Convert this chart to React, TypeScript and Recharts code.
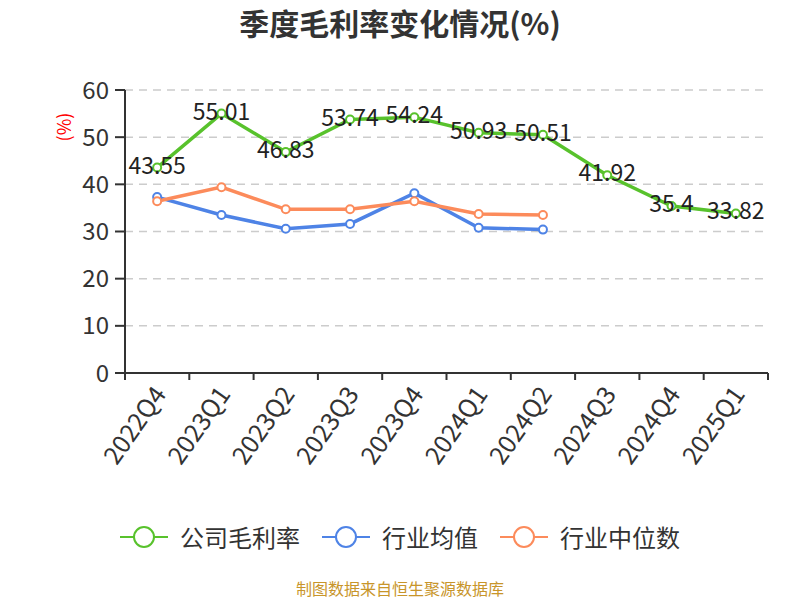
import { CartesianGrid, LabelList, Line, LineChart, XAxis, YAxis } from "recharts";

const quarters = ["2022Q4", "2023Q1", "2023Q2", "2023Q3", "2023Q4", "2024Q1", "2024Q2", "2024Q3", "2024Q4", "2025Q1"];
const companyRate = [43.55, 55.01, 46.83, 53.74, 54.24, 50.93, 50.51, 41.92, 35.4, 33.82];
const industryAvg = [37.3, 33.5, 30.6, 31.6, 38.1, 30.8, 30.4, null, null, null];
const industryMedian = [36.4, 39.4, 34.7, 34.7, 36.4, 33.7, 33.5, null, null, null];
const yTicks = [0, 10, 20, 30, 40, 50, 60];

const GREEN = "#58c22c";
const BLUE = "#4e83e6";
const ORANGE = "#fc8b5b";
const FONT = '"Noto Sans CJK SC", "Noto Sans", sans-serif';

const W = 800;
const H = 600;
const M = { top: 90, right: 32, bottom: 127, left: 0 };
const Y_W = 125;
const BAND = (W - M.left - M.right - Y_W) / quarters.length;

const data = quarters.map((q, i) => ({
  q,
  company: companyRate[i],
  avg: industryAvg[i],
  median: industryMedian[i],
}));

const series = [
  { key: "company", name: "公司毛利率", color: GREEN },
  { key: "avg", name: "行业均值", color: BLUE },
  { key: "median", name: "行业中位数", color: ORANGE },
];

function QuarterTick(props: any) {
  const { x, y, payload, index } = props;
  const last = index === quarters.length - 1;
  return (
    <g>
      <line x1={x - BAND / 2} y1={y} x2={x - BAND / 2} y2={y + 7} stroke="#333" strokeWidth={2} />
      {last && <line x1={x + BAND / 2} y1={y} x2={x + BAND / 2} y2={y + 7} stroke="#333" strokeWidth={2} />}
      <text
        transform={`translate(${x + 1},${y + 15}) rotate(-55)`}
        textAnchor="end"
        dominantBaseline="central"
        fontSize={25}
        fill="#333"
        fontFamily={FONT}
      >
        {payload.value}
      </text>
    </g>
  );
}

function ValueLabel(props: any) {
  const { x, y, value } = props;
  return (
    <text x={x} y={y - 4} textAnchor="middle" dominantBaseline="central" fontSize={23} fill="#222" fontFamily={FONT}>
      {value}
    </text>
  );
}

export default function App() {
  return (
    <div style={{ position: "absolute", left: 0, top: 0, width: W, height: H, background: "#fff", fontFamily: FONT }}>
      <div style={{ position: "absolute", top: 0, width: W, textAlign: "center", fontSize: 30, lineHeight: "44px", fontWeight: 700, color: "#333" }}>
        季度毛利率变化情况(%)
      </div>
      <LineChart width={W} height={H} data={data} margin={M}>
        <CartesianGrid vertical={false} stroke="#ccc" strokeDasharray="8 6" strokeWidth={1.5} />
        <XAxis
          dataKey="q"
          height={100}
          padding={{ left: BAND / 2, right: BAND / 2 }}
          axisLine={{ stroke: "#333", strokeWidth: 2 }}
          tickLine={false}
          tickSize={0}
          tickMargin={0}
          interval={0}
          tick={<QuarterTick />}
        />
        <YAxis
          width={Y_W}
          domain={[0, 60]}
          ticks={yTicks}
          axisLine={{ stroke: "#333", strokeWidth: 2 }}
          tickLine={{ stroke: "#333", strokeWidth: 2 }}
          tickSize={10}
          tickMargin={6}
          tick={{ fontSize: 24, fill: "#333", fontFamily: FONT }}
          label={{
            content: () => (
              <text transform="translate(63,127) rotate(-90)" textAnchor="middle" dominantBaseline="central" fontSize={18} fill="#f00" fontFamily={FONT}>
                (%)
              </text>
            ),
          }}
        />
        <Line dataKey="avg" stroke={BLUE} strokeWidth={3.5} dot={{ r: 4, fill: "#fff", stroke: BLUE, strokeWidth: 2 }} isAnimationActive={false} />
        <Line dataKey="median" stroke={ORANGE} strokeWidth={3.5} dot={{ r: 4, fill: "#fff", stroke: ORANGE, strokeWidth: 2 }} isAnimationActive={false} />
        <Line dataKey="company" stroke={GREEN} strokeWidth={3.5} dot={{ r: 4, fill: "#fff", stroke: GREEN, strokeWidth: 2 }} isAnimationActive={false}>
          <LabelList dataKey="company" content={<ValueLabel />} />
        </Line>
      </LineChart>
      <div style={{ position: "absolute", top: 520, left: 0, width: W, display: "flex", justifyContent: "center", gap: 22, fontSize: 24, lineHeight: "34px", color: "#333" }}>
        {series.map((s) => (
          <div key={s.key} style={{ display: "flex", alignItems: "center", gap: 12 }}>
            <svg width={48} height={24}>
              <line x1={0} y1={12} x2={48} y2={12} stroke={s.color} strokeWidth={2} />
              <circle cx={24} cy={12} r={10} fill="#fff" stroke={s.color} strokeWidth={2} />
            </svg>
            <span>{s.name}</span>
          </div>
        ))}
      </div>
      <div style={{ position: "absolute", top: 577, width: W, textAlign: "center", fontSize: 16, lineHeight: "22px", color: "#c8952a" }}>
        制图数据来自恒生聚源数据库
      </div>
    </div>
  );
}
